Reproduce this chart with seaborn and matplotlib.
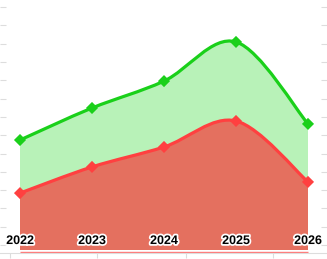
import matplotlib
matplotlib.use("Agg")
import matplotlib.pyplot as plt
import matplotlib.patheffects as pe
from matplotlib.path import Path
from matplotlib.patches import PathPatch
import numpy as np
import pandas as pd
import seaborn as sns

years = [2022, 2023, 2024, 2025, 2026]
year_labels = ["2022", "2023", "2024", "2025", "2026"]
upper = [60.1, 77.6, 92.3, 113.7, 68.9]
lower = [31.1, 45.4, 56.3, 70.5, 37.2]

GREEN_LINE = "#1ad01a"
GREEN_FILL = "#b8f2b8"
RED_LINE = "#ff4040"
RED_FILL = "#e4705f"


def smooth_path(xs, ys, close_to=None):
    # catmull-rom segments as cubic beziers
    pts = np.column_stack([xs, ys]).astype(float)
    ext = np.vstack([pts[0], pts, pts[-1]])
    verts = [tuple(pts[0])]
    codes = [Path.MOVETO]
    for i in range(1, len(ext) - 2):
        p0, p1, p2, p3 = ext[i - 1], ext[i], ext[i + 1], ext[i + 2]
        c1 = p1 + (p2 - p0) / 6.0
        c2 = p2 - (p3 - p1) / 6.0
        verts += [tuple(c1), tuple(c2), tuple(p2)]
        codes += [Path.CURVE4] * 3
    if close_to is not None:
        verts += [(xs[-1], close_to), (xs[0], close_to), tuple(pts[0])]
        codes += [Path.LINETO, Path.LINETO, Path.CLOSEPOLY]
    return Path(verts, codes)


sns.set_theme(style="white")
fig = plt.figure(figsize=(3.27, 2.59), dpi=100)
ax = fig.add_axes([0, 6 / 259, 1, 253 / 259])

for ys, fill, line in [(upper, GREEN_FILL, GREEN_LINE), (lower, RED_FILL, RED_LINE)]:
    ax.add_patch(PathPatch(smooth_path(years, ys, close_to=0), facecolor=fill,
                           edgecolor="none", zorder=1))
    ax.add_patch(PathPatch(smooth_path(years, ys), facecolor="none",
                           edgecolor=line, lw=2.3, zorder=3))

df = pd.DataFrame({"year": years * 2, "value": upper + lower,
                   "series": ["upper"] * 5 + ["lower"] * 5})
sns.scatterplot(data=df, x="year", y="value", hue="series",
                palette={"upper": GREEN_LINE, "lower": RED_LINE},
                marker="D", s=38, edgecolor="none", legend=False, ax=ax, zorder=4)

ax.hlines(-1.2, years[0], years[-1], color=RED_LINE, lw=1.0, alpha=0.7, zorder=2)

for x, lab in zip(years, year_labels):
    ax.text(x, 4.9, lab, ha="center", va="center", fontsize=9, fontweight="bold",
            family="Liberation Sans", color="black", zorder=5,
            path_effects=[pe.withStroke(linewidth=2.5, foreground="white")])

ax.set_xlim(2022 - 20 / 72, 2022 + 307 / 72)
ax.set_ylim(-1.64, 250 / 1.83)
ax.set_xlabel("")
ax.set_ylabel("")

ax.set_yticks(np.arange(2.73, 136, 10))
ax.set_yticklabels([])
ax.tick_params(axis="y", which="major", left=True, right=True, direction="in",
               length=4.5, width=0.8, color="#dddddd")
ax.set_xticks([2022 + (p - 20) / 72 for p in (10, 97, 186, 273)])
ax.set_xticklabels([])
ax.tick_params(axis="x", which="major", bottom=True, direction="out",
               length=3.5, width=0.8, color="#dddddd")

for side in ("top", "left", "right"):
    ax.spines[side].set_visible(False)
ax.spines["bottom"].set_color("#dddddd")
ax.spines["bottom"].set_linewidth(0.8)

fig.savefig("out.png", dpi=100)
